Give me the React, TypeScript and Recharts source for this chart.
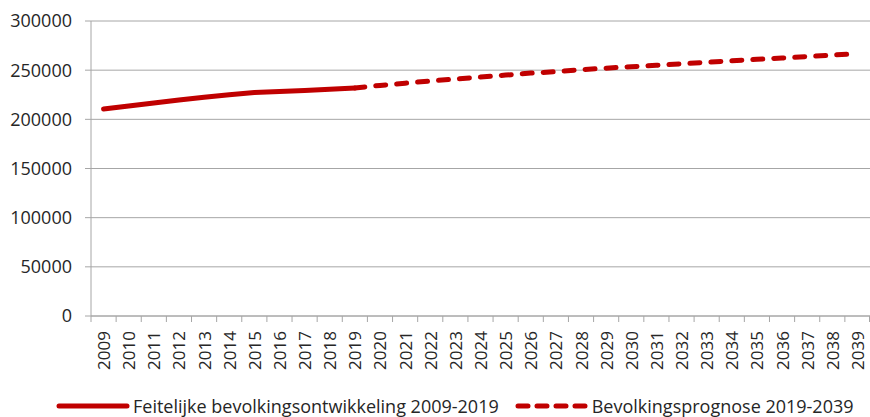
import { LineChart, Line, XAxis, YAxis, CartesianGrid, Legend } from "recharts";

const years = [
  2009, 2010, 2011, 2012, 2013, 2014, 2015, 2016, 2017, 2018, 2019, 2020, 2021, 2022, 2023, 2024,
  2025, 2026, 2027, 2028, 2029, 2030, 2031, 2032, 2033, 2034, 2035, 2036, 2037, 2038, 2039,
];

// feitelijke ontwikkeling 2009-2019
const actual = [210500, 213600, 216700, 219700, 222500, 225000, 227200, 228200, 229200, 230500, 231800];

// prognose 2019-2039
const forecast = [
  231800, 234500, 236800, 239000, 241000, 243000, 245000, 247000, 248500, 250500, 252000, 253500,
  255000, 256500, 258000, 259500, 261000, 262400, 263800, 265300, 266800,
];

const yTicks = [0, 50000, 100000, 150000, 200000, 250000, 300000];

const RED = "#C00000";
const GRID = "#A6A6A6";
const TEXT = "#262626";
const FONT = "'Open Sans', sans-serif";

const data = years.map((y, i) => ({
  year: String(y),
  actual: i < actual.length ? actual[i] : null,
  forecast: i >= actual.length - 1 ? forecast[i - (actual.length - 1)] : null,
}));

const W = 870;
const H = 417;
const PLOT_LEFT = 91;
const BAND = (W - PLOT_LEFT) / years.length;

function YearTick(props: any) {
  const { x, y, payload, index } = props;
  const axisY = y - 8;
  const left = x - BAND / 2;
  return (
    <g>
      <line x1={left} y1={axisY} x2={left} y2={axisY + 6} stroke={GRID} />
      {index === years.length - 1 && (
        <line x1={W - 0.5} y1={axisY} x2={W - 0.5} y2={axisY + 6} stroke={GRID} />
      )}
      <text
        x={x}
        y={y + 7}
        transform={`rotate(-90, ${x}, ${y + 7})`}
        textAnchor="end"
        dominantBaseline="central"
        fontSize={17}
        fontFamily={FONT}
        fill={TEXT}
      >
        {payload.value}
      </text>
    </g>
  );
}

function LegendContent() {
  return (
    <div
      style={{
        display: "flex",
        alignItems: "center",
        paddingLeft: 56,
        fontFamily: FONT,
        fontSize: 18,
        color: TEXT,
        whiteSpace: "nowrap",
      }}
    >
      <svg width={74} height={10}>
        <line x1={3} y1={5} x2={71} y2={5} stroke={RED} strokeWidth={5} strokeLinecap="round" />
      </svg>
      <span style={{ marginLeft: 3 }}>Feitelijke bevolkingsontwikkeling 2009-2019</span>
      <svg width={74} height={10} style={{ marginLeft: 16 }}>
        <line
          x1={3}
          y1={5}
          x2={71}
          y2={5}
          stroke={RED}
          strokeWidth={5}
          strokeLinecap="round"
          strokeDasharray="10 9"
        />
      </svg>
      <span style={{ marginLeft: 3 }}>Bevolkingsprognose 2019-2039</span>
    </div>
  );
}

export default function App() {
  return (
    <div style={{ position: "absolute", left: 0, top: 0, background: "#fff" }}>
      <LineChart width={W} height={H} data={data} margin={{ top: 21, right: 0, bottom: 0, left: 0 }}>
        <CartesianGrid vertical={false} stroke={GRID} strokeWidth={1} />
        <XAxis
          dataKey="year"
          interval={0}
          padding={{ left: BAND / 2, right: BAND / 2 }}
          axisLine={{ stroke: GRID }}
          tickLine={false}
          tick={<YearTick />}
          tickSize={6}
          tickMargin={2}
          height={77}
        />
        <YAxis
          width={PLOT_LEFT}
          domain={[0, 300000]}
          ticks={yTicks}
          interval={0}
          axisLine={{ stroke: GRID }}
          tickLine={{ stroke: GRID }}
          tickSize={6}
          tickMargin={13}
          tick={{ fontSize: 18, fontFamily: FONT, fill: TEXT }}
        />
        <Legend verticalAlign="bottom" content={<LegendContent />} wrapperStyle={{ bottom: -1 }} />
        <Line
          dataKey="actual"
          stroke={RED}
          strokeWidth={5}
          strokeLinecap="round"
          dot={false}
          activeDot={false}
          connectNulls={false}
          isAnimationActive={false}
        />
        <Line
          dataKey="forecast"
          stroke={RED}
          strokeWidth={5}
          strokeLinecap="round"
          strokeDasharray="10 11"
          dot={false}
          activeDot={false}
          connectNulls={false}
          isAnimationActive={false}
        />
      </LineChart>
    </div>
  );
}
